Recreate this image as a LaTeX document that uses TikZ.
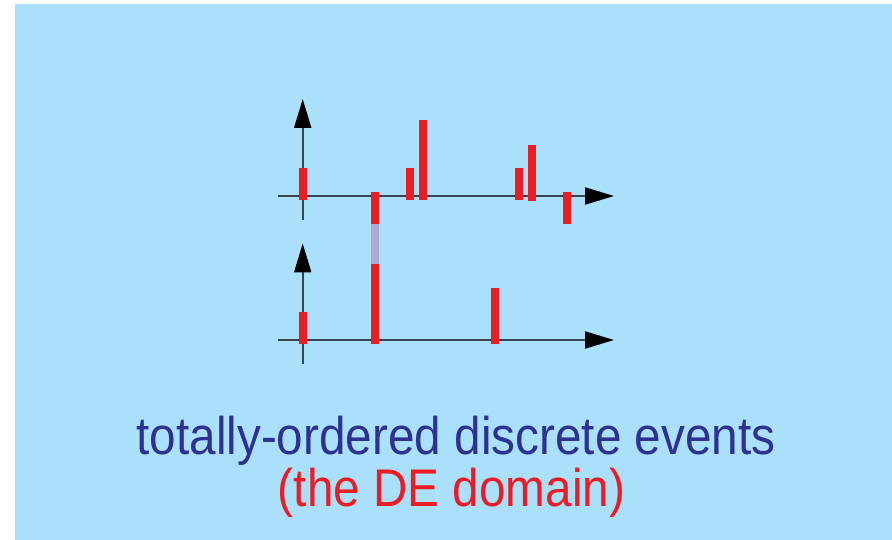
\documentclass[tikz,border=0pt]{standalone}
\usepackage{fontspec}
\setmainfont{Liberation Sans}
\usetikzlibrary{arrows.meta}
\definecolor{bgblue}{HTML}{AAE0FA}
\definecolor{evred}{HTML}{ED1C24}
\definecolor{lav}{HTML}{AEA9D3}
\definecolor{axisc}{HTML}{36454F}
\definecolor{txtblue}{HTML}{2E3192}
\tikzset{
  axisline/.style={draw=axisc, line width=2pt},
  axisarrow/.style={axisline, -{Triangle[length=29pt,width=17pt,fill=black,color=black]}},
  evbar/.style={fill=evred},
  lavbar/.style={fill=lav},
  caption/.style={anchor=base, inner sep=0pt, font=\fontsize{53}{60}\selectfont}
}
\begin{document}
\begin{tikzpicture}[x=1pt,y=-1pt]
\useasboundingbox (0,0) rectangle (892,540);
\fill[bgblue] (15,4) rectangle (892,540);
% upper axes
\coordinate (u0) at (278,196);
\coordinate (u1) at (614,196);
\coordinate (uv0) at (302.7,220);
\coordinate (uv1) at (302.7,99);
\draw[axisarrow] (u0) -- (u1);
\draw[axisarrow] (uv0) -- (uv1);
% lower axes
\coordinate (l0) at (278,340);
\coordinate (l1) at (614,340);
\coordinate (lv0) at (302.7,364);
\coordinate (lv1) at (302.7,243.5);
\draw[axisarrow] (l0) -- (l1);
\draw[axisarrow] (lv0) -- (lv1);
% upper events
\fill[evbar] (299,168) rectangle (307,199.7);
\fill[evbar] (405.7,168) rectangle (413.7,199.7);
\fill[evbar] (419,120) rectangle (427,199.7);
\fill[evbar] (515,168) rectangle (523,199.7);
\fill[evbar] (528.3,145.3) rectangle (536.3,201);
\fill[evbar] (563,192) rectangle (571,224);
% shared event
\fill[evbar] (371,192) rectangle (379,223.7);
\fill[lavbar] (371,223.7) rectangle (379,263.7);
\fill[evbar] (371,263.7) rectangle (379,343.7);
% lower events
\fill[evbar] (299,312) rectangle (307,343.7);
\fill[evbar] (491,288) rectangle (499,343.7);
% captions
\node[caption, text=txtblue] (t1) at (456,454) {\scalebox{0.9}[1]{totally-ordered discrete events}};
\node[caption, text=evred] (t2) at (451.5,506.7) {\scalebox{0.9}[1]{(the DE domain)}};
\end{tikzpicture}
\end{document}
